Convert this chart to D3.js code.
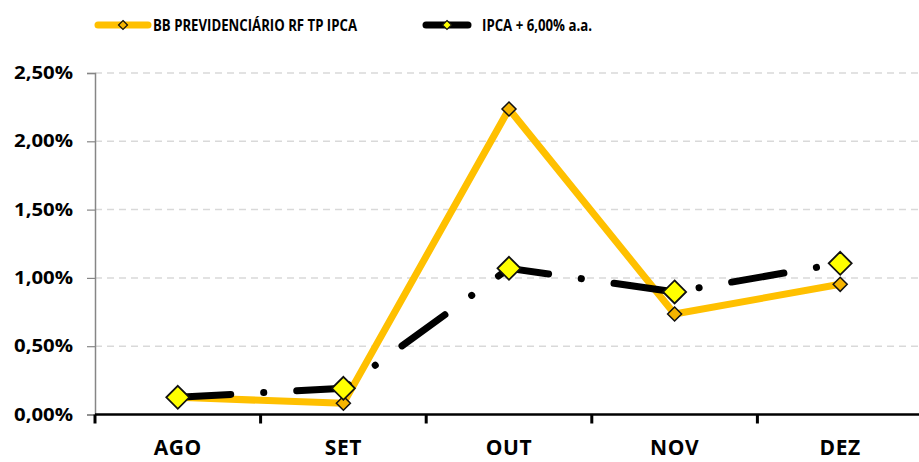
<!DOCTYPE html>
<html>
<head>
<meta charset="utf-8">
<script src="https://cdn.jsdelivr.net/npm/d3@7"></script>
<style>
  body { margin: 0; background: #fff; }
  svg { display: block; }
  text { font-family: "Open Sans", "Liberation Sans", Arial, sans-serif; font-weight: bold; fill: #000; }
</style>
</head>
<body>
<div id="chart"></div>
<script>
// data (monthly return, %)
var months = ["AGO", "SET", "OUT", "NOV", "DEZ"];
var fundo = [0.126, 0.082, 2.236, 0.736, 0.953];
var meta = [0.126, 0.192, 1.070, 0.897, 1.107];
var yTicks = [0, 0.5, 1, 1.5, 2, 2.5];
var seriesNames = ["BB PREVIDENCIÁRIO RF TP IPCA", "IPCA + 6,00% a.a."];

var wi = 919, he = 462;
var padL = 95, padT = 73, baseY = 414.5, bandW = 165.6;

var svg = d3.select("#chart").append("svg")
  .attr("width", wi)
  .attr("height", he);

var x = d3.scaleBand().domain(months).range([padL, padL + bandW * months.length]);
var y = d3.scaleLinear().domain([0, 2.5]).range([baseY, padT]);
var cx = function(d, i) { return x(months[i]) + x.bandwidth() / 2; };

var br = d3.formatLocale({ decimal: ",", thousands: ".", grouping: [3], currency: ["R$", ""] });
var pct = function(v) { return br.format(".2f")(v) + "%"; };

// gridlines
svg.append("g").selectAll("line")
  .data(yTicks.filter(function(t) { return t > 0; }))
  .enter().append("line")
  .attr("x1", padL).attr("x2", wi)
  .attr("y1", function(d) { return y(d); })
  .attr("y2", function(d) { return y(d); })
  .attr("stroke", "#d9d9d9")
  .attr("stroke-width", 1.5)
  .attr("stroke-dasharray", "7 5");

// y axis
var yAxis = svg.append("g")
  .attr("transform", "translate(" + padL + ",0)")
  .call(d3.axisLeft(y).tickValues(yTicks).tickFormat(pct).tickSize(8).tickPadding(14));
yAxis.select(".domain").attr("stroke", "#868686").attr("stroke-width", 1.5);
yAxis.selectAll(".tick line").attr("stroke", "#868686").attr("stroke-width", 1.2);
yAxis.selectAll("text")
  .attr("font-size", "17.5px")
  .attr("font-family", "Open Sans, Liberation Sans, sans-serif")
  .attr("font-weight", "bold")
  .attr("fill", "#000")
  .attr("textLength", 59)
  .attr("lengthAdjust", "spacingAndGlyphs");

// x axis
var xAxis = svg.append("g")
  .attr("transform", "translate(0," + baseY + ")")
  .call(d3.axisBottom(x).tickSize(0).tickPadding(26));
xAxis.select(".domain").remove();
xAxis.selectAll("text")
  .attr("font-size", "21px")
  .attr("letter-spacing", "0.6px")
  .attr("font-family", "Open Sans, Liberation Sans, sans-serif")
  .attr("font-weight", "bold")
  .attr("fill", "#000");
svg.append("line")
  .attr("x1", padL).attr("x2", wi)
  .attr("y1", baseY).attr("y2", baseY)
  .attr("stroke", "#000").attr("stroke-width", 2.5);
svg.append("g").selectAll("line")
  .data(months.map(function(m) { return x(m); }))
  .enter().append("line")
  .attr("x1", function(d) { return d; })
  .attr("x2", function(d) { return d; })
  .attr("y1", baseY).attr("y2", baseY + 9)
  .attr("stroke", "#000").attr("stroke-width", 3);

var line = d3.line().x(cx).y(function(d) { return y(d); });
var diamond = function(s) { return "M0," + (-s) + "L" + s + ",0L0," + s + "L" + (-s) + ",0Z"; };

// fundo series
svg.append("path")
  .datum(fundo)
  .attr("d", line)
  .attr("fill", "none")
  .attr("stroke", "#ffc000")
  .attr("stroke-width", 7)
  .attr("stroke-linejoin", "round");
svg.append("g").selectAll("path")
  .data(fundo)
  .enter().append("path")
  .attr("d", diamond(7))
  .attr("transform", function(d, i) { return "translate(" + cx(d, i) + "," + y(d) + ")"; })
  .attr("fill", "#f5b400")
  .attr("stroke", "#111")
  .attr("stroke-width", 1.5);

// meta series
svg.append("path")
  .datum(meta)
  .attr("d", line)
  .attr("fill", "none")
  .attr("stroke", "#000")
  .attr("stroke-width", 7)
  .attr("stroke-linecap", "round")
  .attr("stroke-dasharray", "53 33 0.1 33");
svg.append("g").selectAll("path")
  .data(meta)
  .enter().append("path")
  .attr("d", diamond(11.5))
  .attr("transform", function(d, i) { return "translate(" + cx(d, i) + "," + y(d) + ")"; })
  .attr("fill", "#ffff00")
  .attr("stroke", "#111")
  .attr("stroke-width", 1.8);

// legend
var leg = [
  { name: seriesNames[0], x1: 98, x2: 148, color: "#ffc000", mk: "#f5b400", ms: 4.5, tx: 153, tw: 204 },
  { name: seriesNames[1], x1: 426, x2: 468, color: "#000", mk: "#ffff00", ms: 4.5, tx: 482, tw: 110 }
];
var lg = svg.append("g").selectAll("g").data(leg).enter().append("g");
lg.append("line")
  .attr("x1", function(d) { return d.x1; })
  .attr("x2", function(d) { return d.x2; })
  .attr("y1", 25).attr("y2", 25)
  .attr("stroke", function(d) { return d.color; })
  .attr("stroke-width", 7)
  .attr("stroke-linecap", "round");
lg.append("path")
  .attr("d", function(d) { return diamond(d.ms); })
  .attr("transform", function(d) { return "translate(" + (d.x1 + d.x2) / 2 + ",25)"; })
  .attr("fill", function(d) { return d.mk; })
  .attr("stroke", "#111")
  .attr("stroke-width", 1.2);
lg.append("text")
  .attr("x", function(d) { return d.tx; })
  .attr("y", 31)
  .attr("font-size", "16px")
  .attr("textLength", function(d) { return d.tw; })
  .attr("lengthAdjust", "spacingAndGlyphs")
  .text(function(d) { return d.name; });
</script>
</body>
</html>
